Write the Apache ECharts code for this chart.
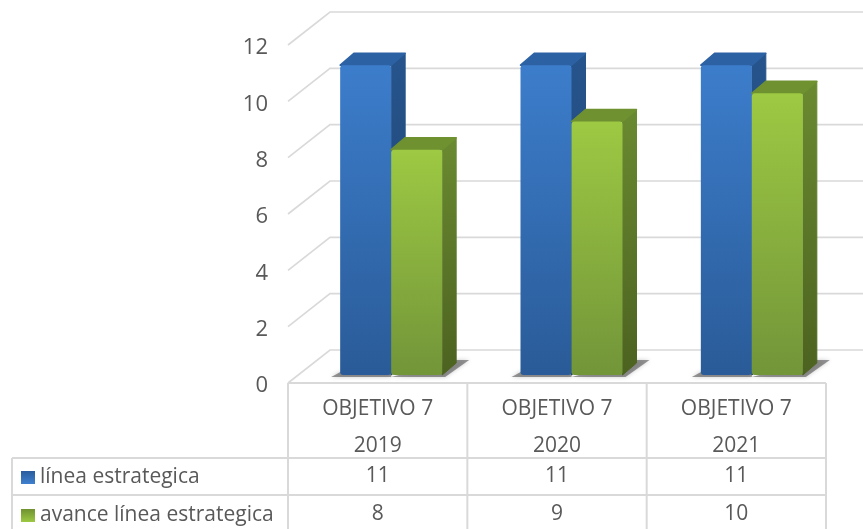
<!DOCTYPE html>
<html><head><meta charset="utf-8">
<style>html,body{margin:0;padding:0;background:#fff}#c{width:863px;height:529px}</style>
<script src="https://cdn.jsdelivr.net/npm/echarts@6/dist/echarts.min.js"></script>
</head><body><div id="c"></div>
<script>
var categories = ['OBJETIVO 7\n2019', 'OBJETIVO 7\n2020', 'OBJETIVO 7\n2021'];
var lineaEstrategica = [11, 11, 11];
var avanceLinea = [8, 9, 10];
var yTicks = [0, 2, 4, 6, 8, 10, 12];
var seriesNames = ['línea estrategica', 'avance línea estrategica'];

var FONT = '"Open Sans", sans-serif', TXT = '#595959', GRID = '#d9d9d9';
var DX = 14, DY = 12, BW = 51, FS = 21;
var WALLX = 42, WALLY = 33;
var TB = {left: 288, right: 826, labelLeft: 12, ys: [383, 458, 495, 529]};

function grad(a, b) { return {type: 'linear', x: 0, y: 0, x2: 0, y2: 1, colorStops: [{offset: 0, color: a}, {offset: 1, color: b}]}; }
var blue = {front: grad('#3c7dcb', '#2a5b98'), side: grad('#26548c', '#1e4370'), top: '#2c62a4'};
var green = {front: grad('#9dc943', '#729539'), side: grad('#6a8a30', '#4c6220'), top: '#6f9130'};

function barItem(pal, idx) {
  return function (params, api) {
    var cx = api.coord([api.value(0), 0])[0];
    var top = api.coord([api.value(0), api.value(1)])[1];
    var base = api.coord([api.value(0), 0])[1];
    var x0 = cx + (idx === 0 ? -BW : 0), x1 = x0 + BW;
    var kids = [];
    kids.push({type: 'polygon', shape: {points: idx === 0
        ? [[x0 - 9, base + 2], [x1, base + 2], [x1, base - 4], [x0 + 2, base - 4]]
        : [[x0, base + 2], [x1 + 3, base + 2], [x1 + DX + 13, base - DY - 3], [x1 + DX, base - DY - 3]]},
      style: {fill: 'rgba(70,70,70,0.55)', shadowBlur: 4, shadowColor: 'rgba(70,70,70,0.5)'}, silent: true, z2: 0});
    kids.push({type: 'polygon', shape: {points: [[x1, top], [x1 + DX, top - DY], [x1 + DX, base - DY], [x1, base]]},
      style: {fill: pal.side, stroke: pal.side, lineWidth: 1, lineJoin: 'round'}, z2: 1});
    kids.push({type: 'polygon', shape: {points: [[x0, top], [x0 + DX, top - DY], [x1 + DX, top - DY], [x1, top]]},
      style: {fill: pal.top, stroke: pal.top, lineWidth: 1.5, lineJoin: 'round'}, z2: 2});
    kids.push({type: 'rect', shape: {x: x0, y: top, width: BW, height: base - top, r: 3}, style: {fill: pal.front}, z2: 3});
    return {type: 'group', children: kids};
  };
}

function wallItem(params, api) {
  var p = api.coord([0, api.value(0)]);
  var x = TB.left, y = p[1];
  return {type: 'polyline', shape: {points: [[x, y], [x + WALLX, y - WALLY], [863, y - WALLY]]},
    style: {fill: null, stroke: GRID, lineWidth: 1.6}, silent: true};
}

function tableLines(params, api) {
  var s = {stroke: GRID, lineWidth: 2};
  var cw = (TB.right - TB.left) / 3, ch = [];
  [[TB.left, TB.ys[0], TB.right, TB.ys[0]], [TB.labelLeft, TB.ys[1], TB.right, TB.ys[1]],
   [TB.labelLeft, TB.ys[2], TB.right, TB.ys[2]], [TB.labelLeft, TB.ys[1], TB.labelLeft, TB.ys[3]]].forEach(function (l) {
    ch.push({type: 'line', shape: {x1: l[0], y1: l[1], x2: l[2], y2: l[3]}, style: s});
  });
  for (var i = 0; i <= 3; i++) {
    var x = TB.left + i * cw;
    ch.push({type: 'line', shape: {x1: x, y1: TB.ys[0], x2: x, y2: TB.ys[3]}, style: s});
  }
  return {type: 'group', children: ch, silent: true};
}

function cellText(y) {
  return function (params, api) {
    var p = api.coord([api.value(0), 0]);
    return {type: 'text', x: p[0], y: y, silent: true,
      style: {text: String(api.value(1)), fill: TXT, font: FS + 'px ' + FONT, align: 'center', verticalAlign: 'middle'}};
  };
}

function pairs(a) { return a.map(function (v, i) { return [i, v]; }); }

function legendFor(name, top) {
  return {left: 21, top: top, padding: 0, itemWidth: 14, itemHeight: 13, itemGap: 0, icon: 'rect', orient: 'vertical',
    data: [name], selectedMode: false,
    textStyle: {color: TXT, fontFamily: FONT, fontSize: FS}};
}

var option = {
  animation: false,
  backgroundColor: '#fff',
  grid: [
    {left: TB.left, width: TB.right - TB.left, top: 45, height: 338},
    {left: 301, width: 541, top: 37, height: 338}
  ],
  legend: [legendFor(seriesNames[0], 467), legendFor(seriesNames[1], 505)],
  xAxis: [
    {type: 'category', gridIndex: 0, data: categories, position: 'bottom',
      axisLine: {show: false}, axisTick: {show: false}, splitLine: {show: false},
      axisLabel: {color: TXT, fontFamily: FONT, fontSize: FS, lineHeight: 37, margin: 8}},
    {type: 'category', gridIndex: 1, data: categories, show: false}
  ],
  yAxis: [
    {type: 'value', gridIndex: 0, min: 0, max: 12, interval: 2,
      axisLine: {show: false}, axisTick: {show: false}, splitLine: {show: false},
      axisLabel: {color: TXT, fontFamily: FONT, fontSize: 22, margin: 20, verticalAlign: 'top', lineHeight: 6}},
    {type: 'value', gridIndex: 1, min: 0, max: 12, interval: 2, show: false, splitLine: {show: false}}
  ],
  series: [
    {type: 'custom', xAxisIndex: 0, yAxisIndex: 0, data: yTicks.map(function (v) { return [v]; }), renderItem: wallItem, encode: {y: 0}, silent: true, z: 1, clip: false},
    {type: 'custom', xAxisIndex: 0, yAxisIndex: 0, data: [[0]], renderItem: tableLines, silent: true, z: 1, clip: false},
    {type: 'custom', name: seriesNames[0], xAxisIndex: 1, yAxisIndex: 1, data: pairs(lineaEstrategica), renderItem: barItem(blue, 0),
      encode: {x: 0, y: 1}, itemStyle: {color: grad('#2a5c9c', '#3f80cf')}, z: 3, clip: false},
    {type: 'custom', name: seriesNames[1], xAxisIndex: 1, yAxisIndex: 1, data: pairs(avanceLinea), renderItem: barItem(green, 1),
      encode: {x: 0, y: 1}, itemStyle: {color: grad('#6f9130', '#9dc943')}, z: 4, clip: false},
    {type: 'custom', xAxisIndex: 0, yAxisIndex: 0, data: pairs(lineaEstrategica), renderItem: cellText(476), encode: {x: 0, y: 1}, silent: true, z: 5, clip: false},
    {type: 'custom', xAxisIndex: 0, yAxisIndex: 0, data: pairs(avanceLinea), renderItem: cellText(514), encode: {x: 0, y: 1}, silent: true, z: 5, clip: false}
  ]
};
echarts.init(document.getElementById('c'), null, {renderer: 'canvas'}).setOption(option);
</script></body></html>
